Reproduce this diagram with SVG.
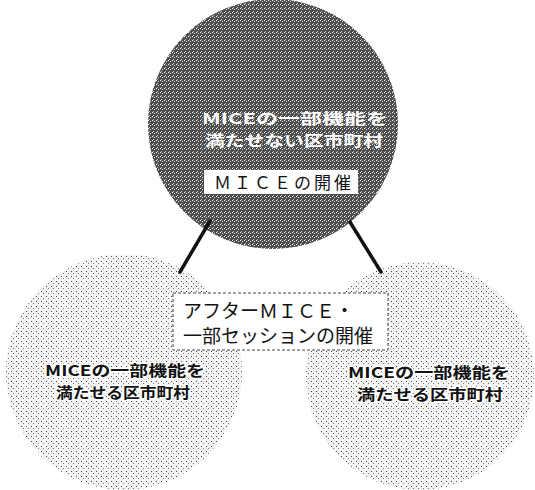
<svg xmlns="http://www.w3.org/2000/svg" width="535" height="490" viewBox="0 0 535 490">
<style>
.jp{font-family:"Noto Sans CJK JP","Liberation Sans",sans-serif}
.dark{fill:#fff;font-size:15px;font-weight:bold}
.light{fill:#111;font-size:15px;font-weight:bold;stroke:#fff;stroke-width:3;paint-order:stroke;stroke-linejoin:round}
.box{fill:#fff}
.lbl{fill:#111;font-size:19px}
.conn{stroke:#111;stroke-width:3.5;stroke-linecap:round}
</style>
<defs>
<pattern id="darkTone" width="4" height="4" patternUnits="userSpaceOnUse">
<rect width="4" height="4" fill="#4e4e4e"/>
<rect x="0" y="0" width="1" height="1" fill="#fff"/>
<rect x="2" y="1" width="1" height="1" fill="#ddd"/>
<rect x="1" y="3" width="1" height="1" fill="#bbb"/>
</pattern>
<pattern id="lightTone" width="5" height="5" patternUnits="userSpaceOnUse">
<rect width="5" height="5" fill="#f4f4f4"/>
<rect x="1" y="1" width="1" height="1" fill="#444"/>
<rect x="3" y="3" width="1" height="1" fill="#777"/>
</pattern>
</defs>
<g id="bottom-left">
<circle cx="124" cy="372" r="118" fill="url(#lightTone)"/>
<text class="jp light" x="45" y="376" textLength="160" lengthAdjust="spacingAndGlyphs">MICEの一部機能を</text>
<text class="jp light" x="56" y="398" textLength="134" lengthAdjust="spacingAndGlyphs">満たせる区市町村</text>
</g>
<g id="bottom-right">
<circle cx="420" cy="376" r="114" fill="url(#lightTone)"/>
<text class="jp light" x="348" y="378" textLength="162" lengthAdjust="spacingAndGlyphs">MICEの一部機能を</text>
<text class="jp light" x="357" y="400" textLength="146" lengthAdjust="spacingAndGlyphs">満たせる区市町村</text>
</g>
<g id="top">
<circle cx="273" cy="124" r="125" fill="url(#darkTone)"/>
<text class="jp dark" x="202" y="124" textLength="186" lengthAdjust="spacingAndGlyphs">MICEの一部機能を</text>
<text class="jp dark" x="205" y="146" textLength="178" lengthAdjust="spacingAndGlyphs">満たせない区市町村</text>
</g>
<g id="connectors">
<line class="conn" x1="210" y1="221" x2="180" y2="272"/>
<line class="conn" x1="350" y1="222" x2="381" y2="272"/>
</g>
<g id="mice-box">
<rect class="box" x="204" y="170" width="154" height="24"/>
<text class="jp" x="214" y="189" font-size="17" fill="#111" letter-spacing="3">ＭＩＣＥの開催</text>
</g>
<g id="after-box">
<rect class="box" x="173" y="293" width="215" height="57" stroke="#444" stroke-width="1" stroke-dasharray="3 2"/>
<text class="jp lbl" x="183" y="318">アフターＭＩＣＥ・</text>
<text class="jp lbl" x="183" y="343">一部セッションの開催</text>
</g>
</svg>
